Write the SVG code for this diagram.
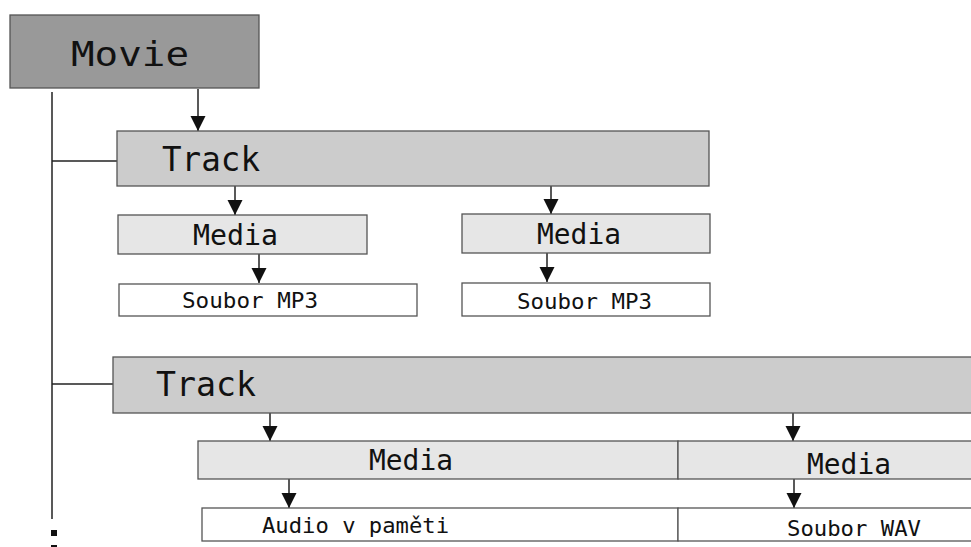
<svg xmlns="http://www.w3.org/2000/svg" width="971" height="547" viewBox="0 0 971 547">
<defs>
<style>
.box{stroke:#555;stroke-width:1.3}
.movie{fill:#999999}
.track{fill:#cccccc}
.media{fill:#e6e6e6}
.file{fill:#ffffff}
text{font-family:"DejaVu Sans Mono","Liberation Mono",monospace;fill:#111}
.small{font-size:21.5px}
.conn line{stroke:#222;stroke-width:1.5}
.arr{marker-end:url(#ah)}
</style>
<marker id="ah" markerUnits="userSpaceOnUse" markerWidth="16" markerHeight="16" refX="15" refY="7.5" orient="auto">
<path d="M0,0 L15,7.5 L0,15 z" fill="#111"/>
</marker>
</defs>
<rect width="971" height="547" fill="#fff"/>
<g id="connectors" class="conn">
<line x1="52" y1="92" x2="52" y2="519"/>
<line x1="52" y1="161" x2="117" y2="161"/>
<line x1="52" y1="384" x2="113" y2="384"/>
<line class="arr" x1="198" y1="89" x2="198" y2="131"/>
<line class="arr" x1="235" y1="186" x2="235" y2="215"/>
<line class="arr" x1="551" y1="186" x2="551" y2="214"/>
<line class="arr" x1="259" y1="254" x2="259" y2="283"/>
<line class="arr" x1="547" y1="253" x2="547" y2="282"/>
<line class="arr" x1="270" y1="413" x2="270" y2="441"/>
<line class="arr" x1="793" y1="413" x2="793" y2="441"/>
<line class="arr" x1="289" y1="479" x2="289" y2="508"/>
<line class="arr" x1="794" y1="479" x2="794" y2="508"/>
</g>
<g id="dots" fill="#111">
<rect x="51" y="530" width="6" height="6"/>
<rect x="51" y="545" width="6" height="2"/>
</g>
<g id="movie">
<rect class="box movie" x="10" y="15" width="249" height="73"/>
<text x="71" y="65.5" font-size="34" textLength="118" lengthAdjust="spacingAndGlyphs">Movie</text>
</g>
<g id="track1">
<rect class="box track" x="117" y="131" width="592" height="55"/>
<text x="162" y="170.5" font-size="33" textLength="98" lengthAdjust="spacingAndGlyphs">Track</text>
</g>
<g id="media1">
<rect class="box media" x="118" y="215" width="249" height="39"/>
<text x="193" y="245" font-size="28" textLength="85" lengthAdjust="spacingAndGlyphs">Media</text>
</g>
<g id="media2">
<rect class="box media" x="462" y="214" width="248" height="39"/>
<text x="537" y="244" font-size="28" textLength="84" lengthAdjust="spacingAndGlyphs">Media</text>
</g>
<g id="file1">
<rect class="box file" x="119" y="284" width="298" height="32"/>
<text class="small" x="182" y="308" textLength="136" lengthAdjust="spacingAndGlyphs">Soubor MP3</text>
</g>
<g id="file2">
<rect class="box file" x="462" y="283" width="248" height="33"/>
<text class="small" x="517" y="309" textLength="135" lengthAdjust="spacingAndGlyphs">Soubor MP3</text>
</g>
<g id="track2">
<rect class="box track" x="113" y="357" width="870" height="56"/>
<text x="156" y="395.5" font-size="33" textLength="100" lengthAdjust="spacingAndGlyphs">Track</text>
</g>
<g id="media3">
<rect class="box media" x="198" y="441" width="480" height="38"/>
<text x="369" y="469.5" font-size="28" textLength="84" lengthAdjust="spacingAndGlyphs">Media</text>
</g>
<g id="media4">
<rect class="box media" x="678" y="441" width="305" height="38"/>
<text x="807" y="473.5" font-size="28" textLength="84" lengthAdjust="spacingAndGlyphs">Media</text>
</g>
<g id="file3">
<rect class="box file" x="202" y="508" width="476" height="33"/>
<text class="small" x="262" y="533" textLength="187" lengthAdjust="spacingAndGlyphs">Audio v paměti</text>
</g>
<g id="file4">
<rect class="box file" x="678" y="508" width="305" height="33"/>
<text class="small" x="787" y="536" textLength="134" lengthAdjust="spacingAndGlyphs">Soubor WAV</text>
</g>
</svg>
